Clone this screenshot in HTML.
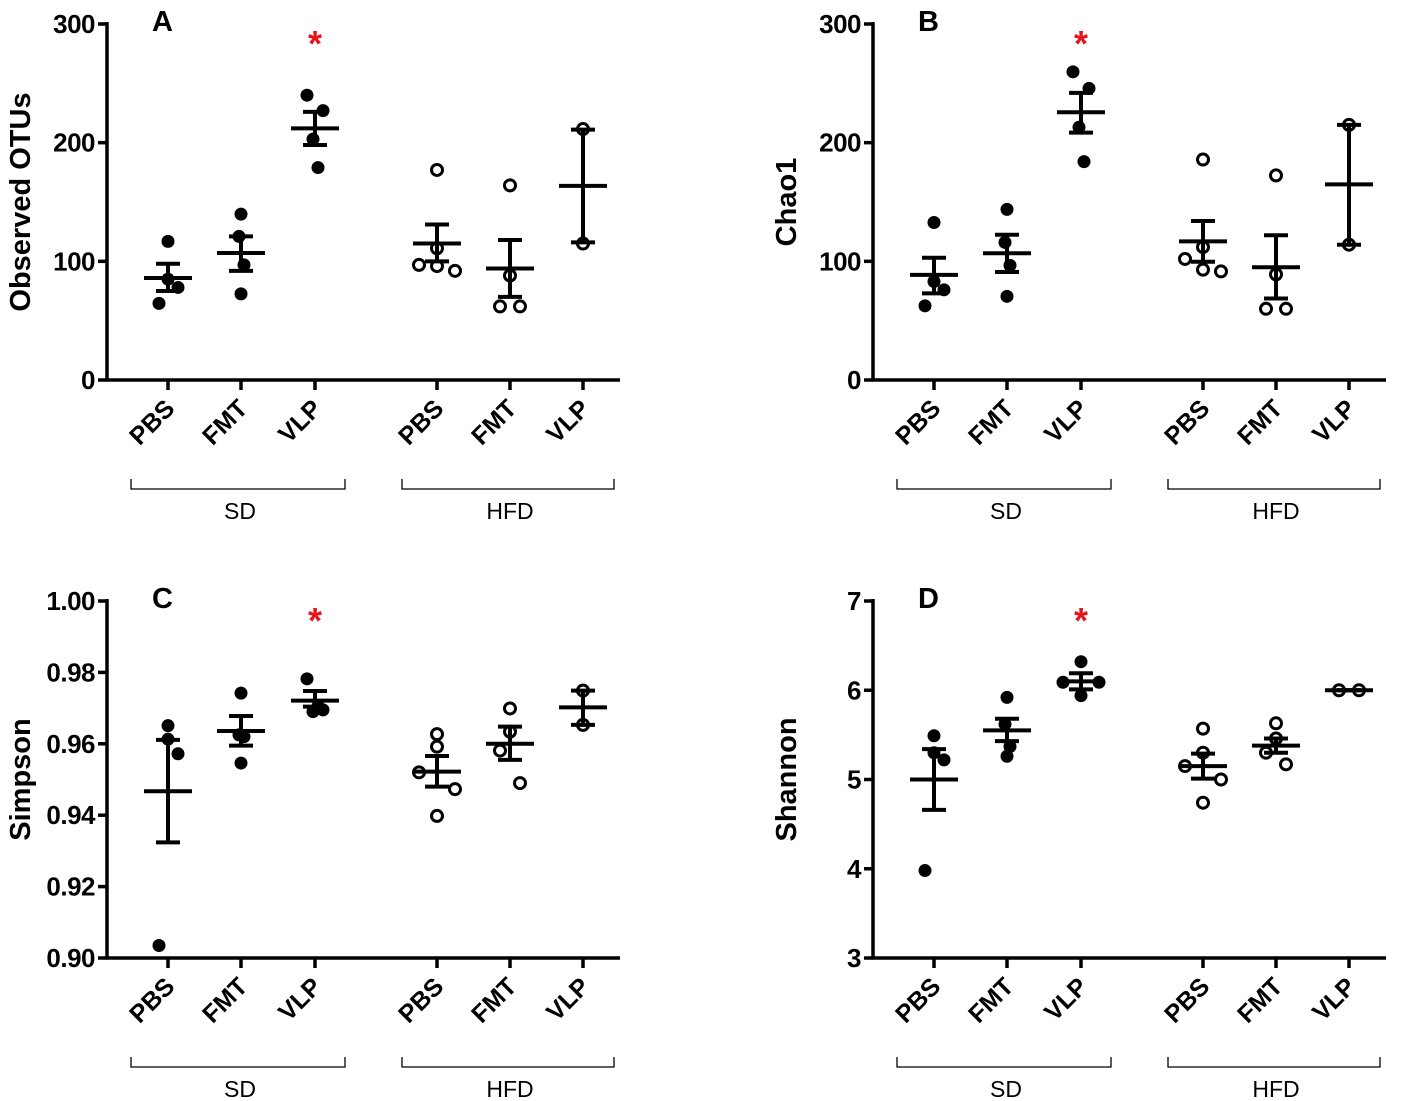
<!DOCTYPE html>
<html><head><meta charset="utf-8"><style>
html,body{margin:0;padding:0;background:#fff;}
svg{display:block;font-family:"Liberation Sans",Arial,sans-serif;}
</style></head><body>
<svg id="chart" width="1418" height="1101" viewBox="0 0 1418 1101"></svg>
<script>
const categories = ["PBS","FMT","VLP","PBS","FMT","VLP"];
const groups = ["SD","HFD"];
// Panel A: Observed OTUs
const otuPoints = [[116.8,85,78,64.6],[139.8,121,97,72.6],[240,227,203,179],[177,111,97,92,96],[164,88,62,62],[211.5,115]];
const otuMean = [86,107,212,115,94,163.6];
const otuErrHi = [98,121,226,131,118,211];
const otuErrLo = [75,92,198,100,70,116];
// Panel B: Chao1
const chaoPoints = [[132.7,83,76,62.5],[143.8,116,96.6,70.5],[259.7,245.7,213,184],[185.8,112,102,91.5,93],[172.4,89,60,60],[215,114]];
const chaoMean = [88.6,106.8,225.6,116.8,95,164.8];
const chaoErrHi = [103,122.4,242,134,122,215];
const chaoErrLo = [73,91,208.5,99.7,68.7,114];
// Panel C: Simpson
const simpPoints = [[0.9651,0.9613,0.9572,0.9035],[0.9742,0.9625,0.962,0.9546],[0.9782,0.9695,0.969,0.9705],[0.9627,0.9592,0.952,0.9473,0.9398],[0.9699,0.9634,0.9581,0.949],[0.9749,0.9653]];
const simpMean = [0.9467,0.9636,0.9721,0.9522,0.960,0.9702];
const simpErrHi = [0.9611,0.9678,0.9748,0.9566,0.9648,0.9749];
const simpErrLo = [0.9324,0.9595,0.9704,0.948,0.9555,0.9653];
// Panel D: Shannon
const shanPoints = [[5.49,5.3,5.22,3.98],[5.92,5.62,5.37,5.26],[6.32,6.09,6.09,5.94],[5.57,5.3,5.15,5.0,4.74],[5.63,5.46,5.3,5.17],[6.0,6.0]];
const shanMean = [5.0,5.55,6.1,5.15,5.38,6.0];
const shanErrHi = [5.34,5.68,6.19,5.29,5.46,6.0];
const shanErrLo = [4.66,5.43,6.01,5.01,5.3,6.0];
const otuTicks = [0,100,200,300];
const simpTicks = ["0.90","0.92","0.94","0.96","0.98","1.00"];
const shanTicks = [3,4,5,6,7];

const NS="http://www.w3.org/2000/svg";
const svg=document.getElementById('chart');
function mk(tag,attrs,parent,text){const e=document.createElementNS(NS,tag);for(const k in attrs)e.setAttribute(k,attrs[k]);if(text!==undefined)e.textContent=text;(parent||svg).appendChild(e);return e;}

// jitter pattern (visual spread, px)
const jitA=[[0,0,10,-9],[0,-2,3,0],[-8,8,-2,3],[0,0,-18,18,0],[0,0,-10,10],[0,0]];
const jitD=[[0,0,10,-9],[0,-2,3,0],[0,-18,18,0],[0,0,-18,18,0],[0,0,-10,10],[-10,10]];

function panel(cfg){
  const g=mk('g',{},svg);
  
  
  const X0=cfg.x0,T=cfg.top,B=cfg.bottom,jit=cfg.jit;
  const y=v=>B-(v-cfg.min)/(cfg.max-cfg.min)*(B-T);
  const catX=[61,134,208,330,403,476];
  const x=i=>X0+catX[i];
  const yl=mk('line',{x1:X0,y1:T-2,x2:X0,y2:B+1.5,stroke:'#000','stroke-width':3.5},g);
  
  const xl=mk('line',{x1:X0-1.5,y1:B,x2:X0+513,y2:B,stroke:'#000','stroke-width':3.5},g);
  
  cfg.ticks.forEach(t=>{
    const v=parseFloat(t);
    mk('line',{x1:X0-9,y1:y(v),x2:X0,y2:y(v),stroke:'#000','stroke-width':3.5},g);
    const tl=mk('text',{x:X0-12,y:y(v)+9,'text-anchor':'end','font-size':26,'font-weight':'bold','letter-spacing':-0.5},g,t);
    
  });
  const yt=mk('text',{x:0,y:0,transform:`translate(${X0-77},${(T+B)/2}) rotate(-90)`,'text-anchor':'middle','font-size':29,'font-weight':'bold'},g,cfg.title);
  
  const pl=mk('text',{x:X0+45,y:T+7,'font-size':29,'font-weight':'bold'},g,cfg.letter);
  
  const st=mk('text',{x:x(2),y:T+32,'text-anchor':'middle','font-size':36,'font-weight':'bold',fill:'#e8141c'},g,'*');
  
  categories.forEach((c,i)=>{
    mk('line',{x1:x(i),y1:B,x2:x(i),y2:B+10,stroke:'#000','stroke-width':3.5},g);
    const cl=mk('text',{x:0,y:0,transform:`translate(${x(i)+8},${B+30}) rotate(-45)`,'text-anchor':'end','font-size':25,'font-weight':'bold'},g,c);
    
  });
  [[X0+24,X0+238,0],[X0+295,X0+507,1]].forEach(b=>{
    const br=mk('path',{d:`M${b[0]},${B+99}V${B+109}H${b[1]}V${B+99}`,fill:'none',stroke:'#000','stroke-width':1.3},g);
    
    const gl=mk('text',{x:(b[0]+b[1])/2+2,y:B+139,'text-anchor':'middle','font-size':23},g,groups[b[2]]);
    
  });
  cfg.points.forEach((arr,i)=>{
    const open=i>=3;
    arr.forEach((v,k)=>{
      const c=mk('circle',{cx:x(i)+(jit[i][k]||0),cy:y(v),r:open?5.5:6.5,fill:open?'#fff':'#000',stroke:'#000','stroke-width':open?3:0},g);
      
    });
  });
  cfg.mean.forEach((m,i)=>{
    const eb=mk('g',{},g);
    
    const hi=y(cfg.hi[i]),lo=y(cfg.lo[i]);
    mk('line',{x1:x(i),y1:hi,x2:x(i),y2:lo,stroke:'#000','stroke-width':4},eb);
    mk('line',{x1:x(i)-12,y1:hi,x2:x(i)+12,y2:hi,stroke:'#000','stroke-width':4},eb);
    mk('line',{x1:x(i)-12,y1:lo,x2:x(i)+12,y2:lo,stroke:'#000','stroke-width':4},eb);
    mk('line',{x1:x(i)-24,y1:y(m),x2:x(i)+24,y2:y(m),stroke:'#000','stroke-width':4},eb);
  });
}
panel({letter:'A',title:'Observed OTUs',x0:107,top:24,bottom:380,min:0,max:300,ticks:otuTicks.map(String),points:otuPoints,mean:otuMean,hi:otuErrHi,lo:otuErrLo,jit:jitA});
panel({letter:'B',title:'Chao1',x0:873,top:24,bottom:380,min:0,max:300,ticks:otuTicks.map(String),points:chaoPoints,mean:chaoMean,hi:chaoErrHi,lo:chaoErrLo,jit:jitA});
panel({letter:'C',title:'Simpson',x0:107,top:601,bottom:958,min:0.9,max:1.0,ticks:simpTicks,points:simpPoints,mean:simpMean,hi:simpErrHi,lo:simpErrLo,jit:jitA});
panel({letter:'D',title:'Shannon',x0:873,top:601,bottom:958,min:3,max:7,ticks:shanTicks.map(String),points:shanPoints,mean:shanMean,hi:shanErrHi,lo:shanErrLo,jit:jitD});
</script>
</body></html>
